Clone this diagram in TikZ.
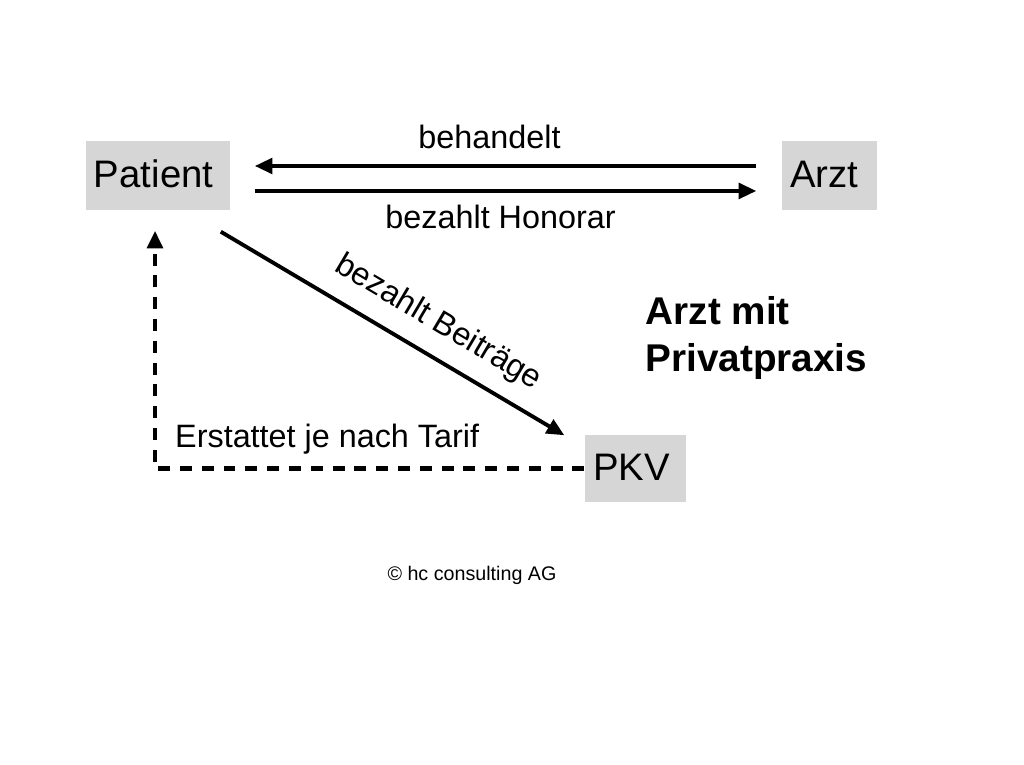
\documentclass[tikz,border=0pt]{standalone}
\usepackage{fontspec}
\setmainfont{Liberation Sans}
\usetikzlibrary{arrows.meta,positioning}
\definecolor{boxgray}{RGB}{214,214,214}

\begin{document}
\begin{tikzpicture}[
    x=0.01cm, y=-0.01cm,
    box/.style={fill=boxgray, inner xsep=2.3pt, inner ysep=0pt, minimum height=0.69cm, text height=8pt, text depth=1.4pt, align=left, font=\fontsize{10.9}{13}\selectfont},
    lbl/.style={font=\fontsize{9.2}{11}\selectfont},
    arrow/.style={-{Triangle[length=5pt,width=4.4pt]}, line width=1.1pt},
    dasharrow/.style={arrow, line width=1.3pt, dash pattern=on 3.4pt off 2.8pt}
]
    \useasboundingbox (0,0) rectangle (1024,765);

    \node[box, text width=36.4pt] (patient) at (158,175.5) {Patient};
    \node[box, text width=22.4pt] (arzt) at (829.5,175.5) {Arzt};
    \node[box, text width=24.1pt, minimum height=0.67cm] (pkv) at (635.5,468.5) {PKV};

    \node[anchor=west, inner sep=0pt, align=left, font=\bfseries\fontsize{11}{13.4}\selectfont] (praxis) at (645,338) {Arzt mit\\Privatpraxis};
    \node[font=\fontsize{5.6}{7}\selectfont] (copy) at (472,575) {© hc consulting AG};

    \draw[arrow, shorten <=0.25cm, shorten >=0.24cm] ([yshift=2.7pt]arzt.west) -- node[lbl, pos=0.53, above=1pt] {behandelt} ([yshift=2.7pt]patient.east);
    \draw[arrow, shorten <=0.24cm, shorten >=0.25cm] ([yshift=-4.4pt]patient.east) -- node[lbl, pos=0.49, below] {bezahlt Honorar} ([yshift=-4.4pt]arzt.west);
    \draw[arrow] ([shift={(-10,21)}]patient.south east) -- node[lbl, pos=0.585, sloped, above=1pt] {bezahlt Beiträge} ([shift={(-20,1)}]pkv.north west);
    \draw[dasharrow, shorten >=0.2cm] (pkv.west) -| node[lbl, pos=0.5, anchor=base west, inner sep=0pt, xshift=5.1pt, yshift=6pt] {Erstattet je nach Tarif} ([xshift=-0.85pt]patient.south);
\end{tikzpicture}
\end{document}
